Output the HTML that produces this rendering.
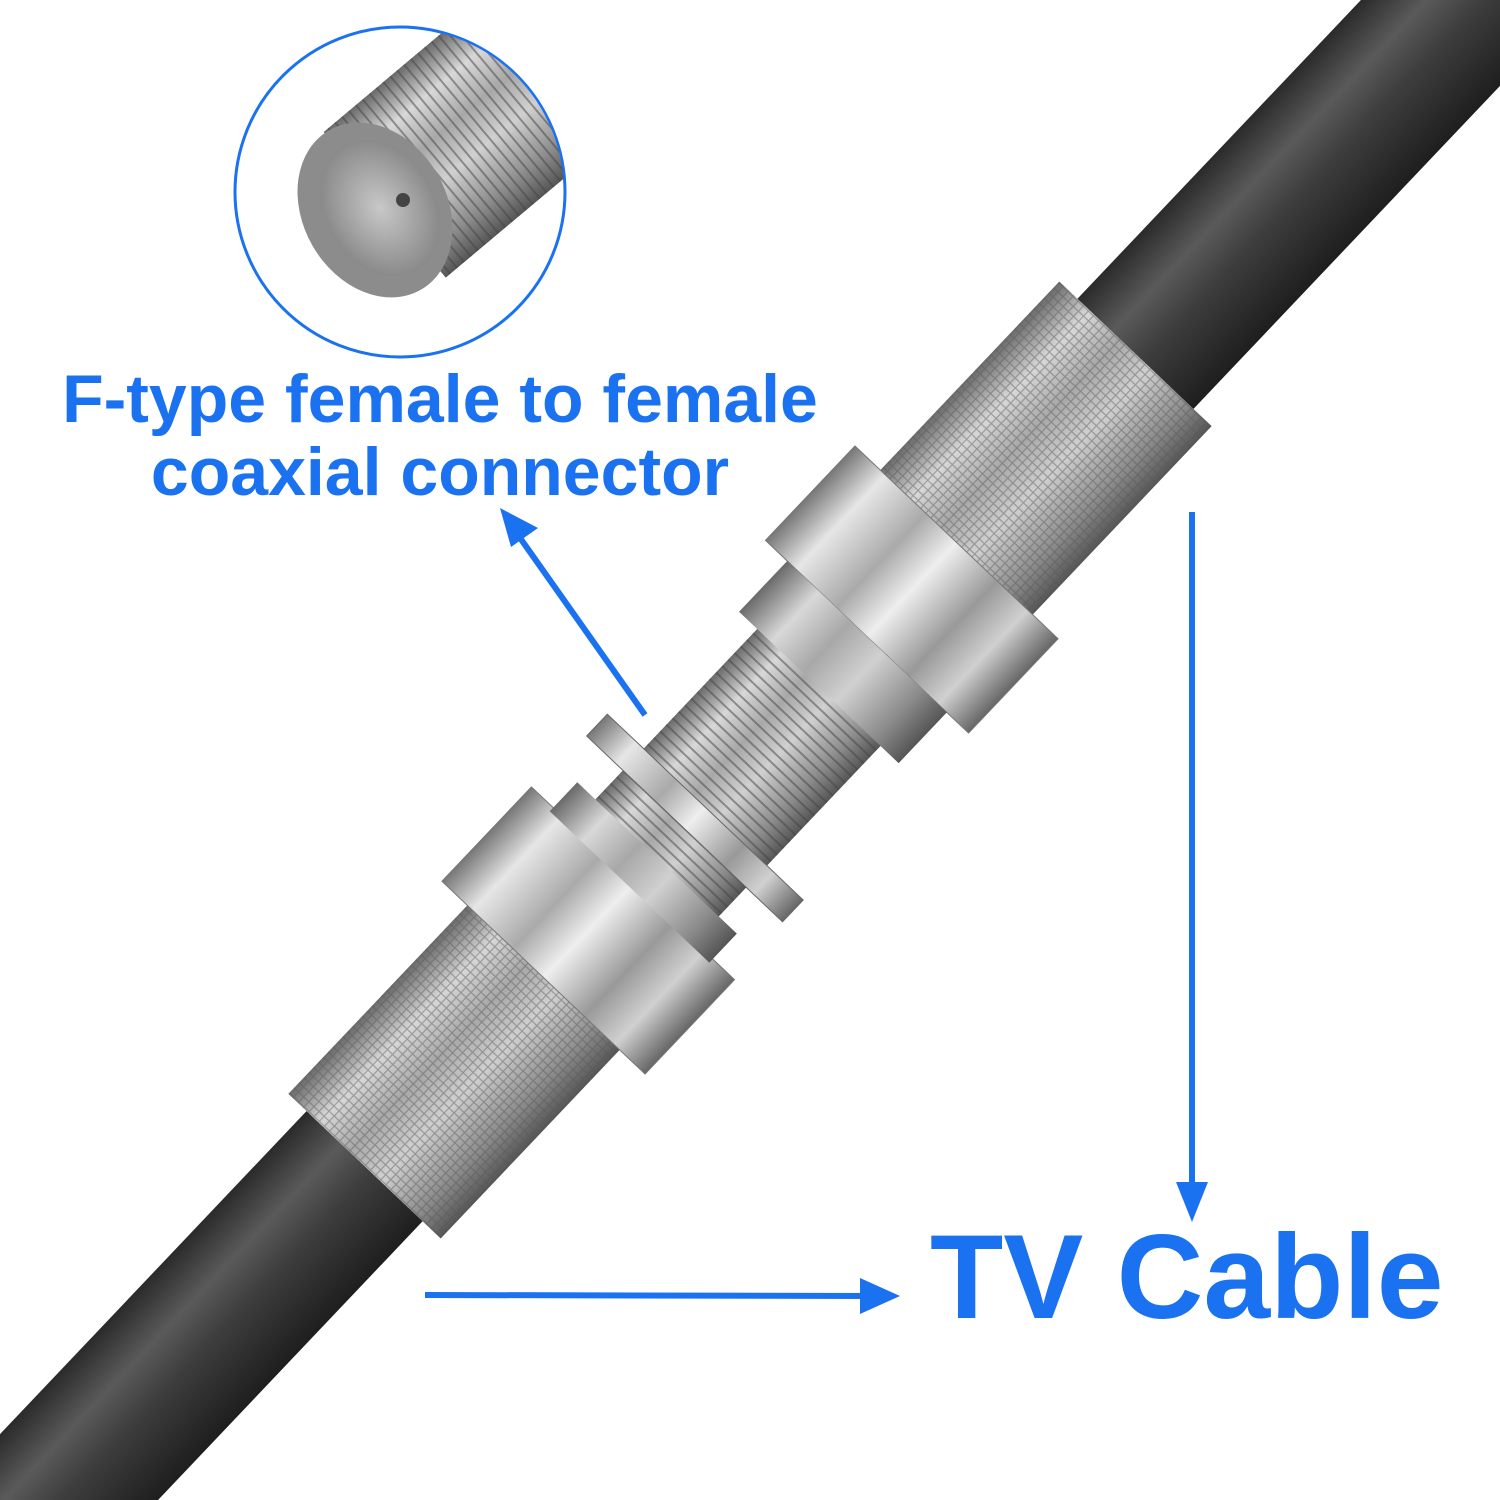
<!DOCTYPE html>
<html><head><meta charset="utf-8"><style>
html,body{margin:0;padding:0;background:#fff;width:1500px;height:1500px;overflow:hidden;}
svg{display:block;overflow:hidden}
</style></head><body>
<svg width="1500" height="1500" viewBox="0 0 1500 1500" xmlns="http://www.w3.org/2000/svg" style="overflow:hidden">
<defs>
<linearGradient id="cab" x1="0" y1="0" x2="0" y2="1">
<stop offset="0" stop-color="#2a2a2a"/><stop offset="0.3" stop-color="#5a5a5a"/><stop offset="0.55" stop-color="#3e3e3e"/><stop offset="1" stop-color="#1e1e1e"/>
</linearGradient>
<linearGradient id="met" x1="0" y1="0" x2="0" y2="1">
<stop offset="0" stop-color="#6a6a6a"/><stop offset="0.2" stop-color="#d8d8d8"/><stop offset="0.4" stop-color="#a8a8a8"/><stop offset="0.6" stop-color="#d0d0d0"/><stop offset="0.85" stop-color="#8a8a8a"/><stop offset="1" stop-color="#555"/>
</linearGradient>
<linearGradient id="hex" x1="0" y1="0" x2="0" y2="1">
<stop offset="0" stop-color="#777"/><stop offset="0.15" stop-color="#e6e6e6"/><stop offset="0.35" stop-color="#aaa"/><stop offset="0.5" stop-color="#eee"/><stop offset="0.7" stop-color="#999"/><stop offset="0.85" stop-color="#d0d0d0"/><stop offset="1" stop-color="#666"/>
</linearGradient>
<pattern id="knurl" width="10" height="10" patternUnits="userSpaceOnUse" patternTransform="rotate(45)">
<path d="M0 0L10 10M10 0L0 10" stroke="#555" stroke-width="1.2" opacity="0.45"/>
</pattern>
<pattern id="thread" width="9" height="10" patternUnits="userSpaceOnUse">
<line x1="4" y1="0" x2="4" y2="10" stroke="#444" stroke-width="2" opacity="0.5"/>
</pattern>
<radialGradient id="cg" cx="0.5" cy="0.5" r="0.5">
<stop offset="0" stop-color="#c8c8c8"/><stop offset="1" stop-color="#8a8a8a"/>
</radialGradient>
<clipPath id="circ"><circle cx="400" cy="192" r="164"/></clipPath>
<clipPath id="page"><rect width="1500" height="1500"/></clipPath>
</defs>
<rect width="1500" height="1500" fill="#fff"/>

<g clip-path="url(#page)">
<g transform="translate(750,760) rotate(-46.5)">
  <rect x="540" y="-80" width="700" height="160" fill="url(#cab)"/>
  <rect x="-1240" y="-80" width="700" height="160" fill="url(#cab)"/>
  <rect x="290" y="-105" width="270" height="210" fill="url(#met)"/>
  <rect x="290" y="-105" width="270" height="210" fill="url(#knurl)"/>
  <rect x="-560" y="-105" width="270" height="210" fill="url(#met)"/>
  <rect x="-560" y="-105" width="270" height="210" fill="url(#knurl)"/>
  <rect x="-180" y="-85" width="360" height="170" fill="url(#met)"/>
  <rect x="-180" y="-85" width="360" height="170" fill="url(#thread)"/>
  <rect x="-95" y="-135" width="30" height="270" fill="url(#hex)" stroke="#666" stroke-width="1"/>
  <rect x="170" y="-140" width="130" height="280" fill="url(#hex)" stroke="#777" stroke-width="1"/>
  <rect x="100" y="-110" width="70" height="220" fill="url(#met)"/>
  <rect x="-300" y="-140" width="130" height="280" fill="url(#hex)" stroke="#777" stroke-width="1"/>
  <rect x="-175" y="-110" width="40" height="220" fill="url(#met)"/>
</g>
</g>

<circle cx="400" cy="192" r="165" fill="#fff" stroke="#1a72f0" stroke-width="3"/>
<g clip-path="url(#circ)">
<g transform="translate(400,192) rotate(-40)">
  <rect x="-20" y="-95" width="200" height="190" fill="url(#met)"/>
  <rect x="-20" y="-95" width="200" height="190" fill="url(#thread)"/>
</g>
<ellipse cx="375" cy="210" rx="72" ry="92" transform="rotate(-30 375 210)" fill="#8c8c8c"/>
<ellipse cx="380" cy="208" rx="55" ry="72" transform="rotate(-30 380 208)" fill="url(#cg)"/>
<circle cx="403" cy="200" r="7" fill="#444"/>
</g>

<g font-family="'Liberation Sans',Arial,sans-serif" font-weight="bold" fill="#1a72f0">
<text x="440" y="422" font-size="68" text-anchor="middle">F-type female to female</text>
<text x="440" y="495" font-size="68" text-anchor="middle">coaxial connector</text>
<text x="930" y="1318" font-size="120">TV Cable</text>
</g>

<g stroke="#1a72f0" stroke-width="6" fill="#1a72f0">
<line x1="645" y1="715" x2="518" y2="535"/>
<polygon points="500,508 538,528 511,547" stroke="none"/>
<line x1="1192" y1="512" x2="1192" y2="1190"/>
<polygon points="1176,1182 1208,1182 1192,1222" stroke="none"/>
<line x1="425" y1="1295" x2="870" y2="1296"/>
<polygon points="860,1278 900,1296 860,1314" stroke="none"/>
</g>
</svg>
</body></html>
